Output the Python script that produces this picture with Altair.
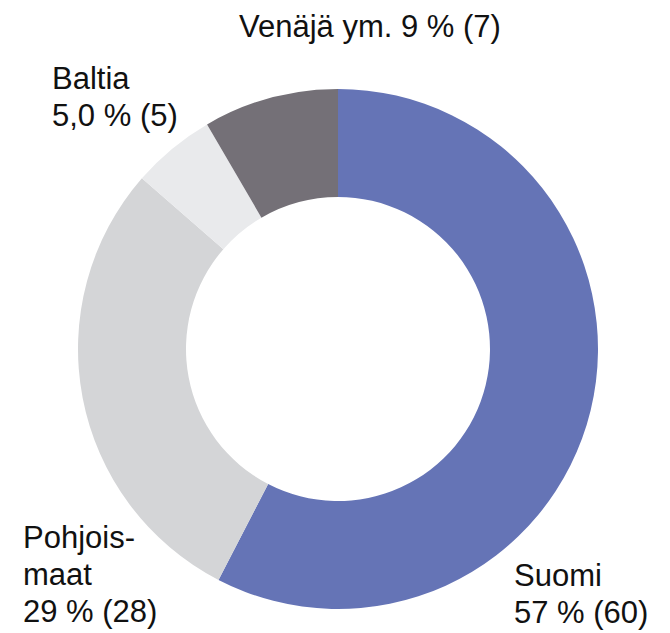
import altair as alt
import pandas as pd

# Data (arc sizes as drawn, labels as printed)
regions = ["Suomi", "Pohjoismaat", "Baltia", "Venäjä ym."]
share = [57.6, 28.8, 5.2, 8.4]
share_text = ["57", "29", "5,0", "9"]
previous = [60, 28, 5, 7]
label_names = ["Suomi", "Pohjois-\nmaat", "Baltia", "Venäjä ym."]
colors = ["#6574B6", "#D4D5D7", "#E9EAEC", "#747077"]

labels = []
for i, r in enumerate(regions):
    tail = f"{share_text[i]} % ({previous[i]})"
    sep = " " if r == "Venäjä ym." else "\n"
    labels.append(f"{label_names[i]}{sep}{tail}")

df = pd.DataFrame({
    "region": regions,
    "share": share,
    "order": list(range(len(regions))),
    "label": labels,
})

W, H = 654, 625
CX, CY = 330, 341

arc = alt.Chart(df).mark_arc(innerRadius=152, outerRadius=260).encode(
    theta=alt.Theta("share:Q", stack=True),
    order=alt.Order("order:Q"),
    color=alt.Color("region:N", scale=alt.Scale(domain=regions, range=colors), legend=None),
    x=alt.value(CX),
    y=alt.value(CY),
)

label_pos = {
    "Suomi": (506, 578),
    "Pohjoismaat": (15, 540),
    "Baltia": (44, 81),
    "Venäjä ym.": (231, 29),
}

layers = [arc]
for r in regions:
    px, py = label_pos[r]
    layers.append(
        alt.Chart(df).transform_filter(alt.datum.region == r).mark_text(
            align="left", baseline="alphabetic", font="Liberation Sans",
            fontSize=31, lineHeight=37, lineBreak="\n", color="#111111",
        ).encode(text="label:N", x=alt.value(px), y=alt.value(py))
    )

chart = alt.layer(*layers).properties(
    width=W, height=H, padding=0, autosize=alt.AutoSizeParams(type="none")
).configure_view(stroke=None)

chart.save("out.html", embed_options={"renderer": "svg", "actions": False})
